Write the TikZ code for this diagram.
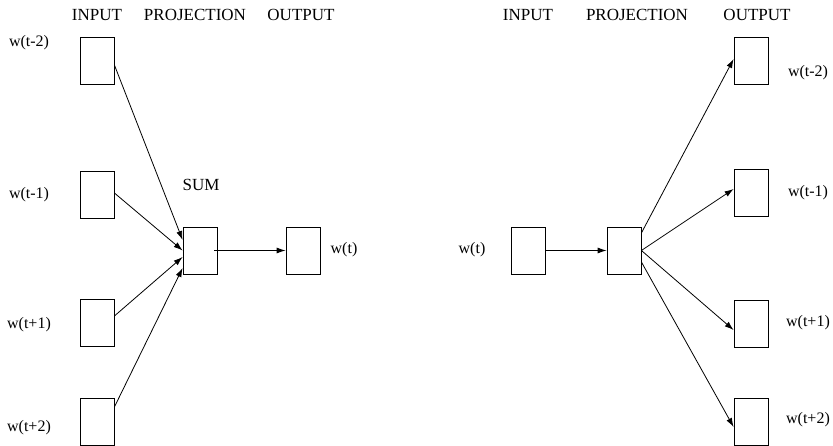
\documentclass[tikz,border=0pt]{standalone}
\usepackage{fontspec}
\setmainfont{Liberation Serif}
\usetikzlibrary{arrows.meta,calc}
\tikzset{
  cell/.style={draw, line width=0.8pt, minimum width=34pt, minimum height=47pt, inner sep=0pt},
  head/.style={font=\fontsize{17}{20}\selectfont, inner sep=0pt},
  lab/.style={font=\fontsize{16}{19}\selectfont, inner sep=0pt},
  arr/.style={-{Latex[length=9pt,width=6pt]}, line width=0.8pt}
}
\begin{document}
\begin{tikzpicture}[x=1pt, y=-1pt]
  \useasboundingbox (0, 0) rectangle (833, 446);
  % glave
  \node [head] (hin) at (97, 15) {INPUT};
  \node [head] (hproj) at (195, 15) {PROJECTION};
  \node [head] (hout) at (301, 15) {OUTPUT};
  \node [head] (rhin) at (528, 15) {INPUT};
  \node [head] (rhproj) at (637, 15) {PROJECTION};
  \node [head] (rhout) at (757, 15) {OUTPUT};
  % levo: skatle
  \node [cell] (in1) at (97, 61) {};
  \node [cell] (in2) at (97, 194.5) {};
  \node [cell] (in3) at (97, 323) {};
  \node [cell] (in4) at (97, 421.5) {};
  \node [cell] (sum) at (200, 250.5) {};
  \node [cell] (out) at (303, 250.5) {};
  % desno: skatle
  \node [cell] (rin) at (528, 250.5) {};
  \node [cell] (proj) at (624, 250.5) {};
  \node [cell] (rout1) at (751, 60.5) {};
  \node [cell] (rout2) at (751, 192.5) {};
  \node [cell] (rout3) at (751, 323.5) {};
  \node [cell] (rout4) at (751, 421.5) {};
  % puscice levo
  \draw [arr] ($(in1.east) + (0, 4)$) -- ($(sum.west) + (0, -10.5)$);
  \draw [arr] ($(in2.east) + (0, -1.5)$) -- (sum.west);
  \draw [arr] ($(in3.east) + (0, -7)$) -- ($(sum.west) + (0, 6.5)$);
  \draw [arr] ($(in4.east) + (0, -14.5)$) -- ($(sum.west) + (0, 17.5)$);
  \draw [arr] ($(sum.east) + (-3, 0)$) -- (out.west);
  % puscice desno
  \draw [arr] (rin.east) -- (proj.west);
  \draw [arr] ($(proj.east) + (0, -17.5)$) -- ($(rout1.west) + (0, -1.5)$);
  \draw [arr] (proj.east) -- ($(rout2.west) + (0, -3.5)$);
  \draw [arr] (proj.east) -- ($(rout3.west) + (0, 6.5)$);
  \draw [arr] ($(proj.east) + (0, 11.5)$) -- ($(rout4.west) + (0, 5.5)$);
  % oznake
  \node [lab] (lw1) at (29, 43) {w(t-2)};
  \node [lab] (lw2) at (29, 195) {w(t-1)};
  \node [lab] (lw3) at (29, 325) {w(t+1)};
  \node [lab] (lw4) at (29, 428) {w(t+2)};
  \node [head] (lsum) at (201, 185) {SUM};
  \node [lab] (lwt) at (344, 250) {w(t)};
  \node [lab] (rwt) at (472, 250) {w(t)};
  \node [lab] (rw1) at (808, 73) {w(t-2)};
  \node [lab] (rw2) at (808, 193) {w(t-1)};
  \node [lab] (rw3) at (808, 323) {w(t+1)};
  \node [lab] (rw4) at (808, 420) {w(t+2)};
\end{tikzpicture}
\end{document}
